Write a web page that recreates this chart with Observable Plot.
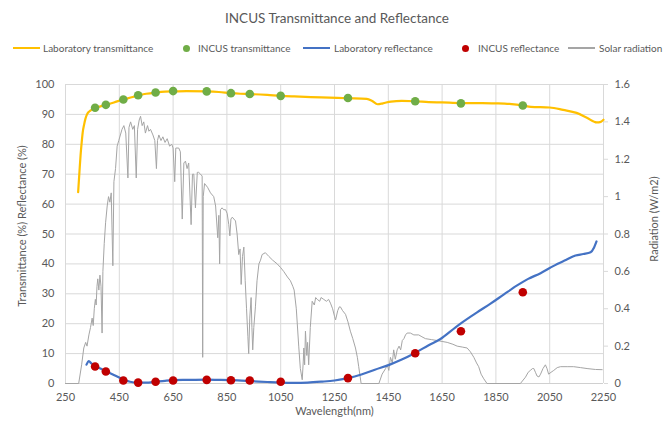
<!DOCTYPE html>
<html><head><meta charset="utf-8">
<script src="https://cdn.jsdelivr.net/npm/d3@7"></script>
<script src="https://cdn.jsdelivr.net/npm/@observablehq/plot@0.6"></script>
<style>
body{margin:0;background:#fff;font-family:Lato,"Open Sans",sans-serif;}
#wrap{position:relative;width:663px;height:428px;overflow:hidden;background:#fff;}
#title{position:absolute;top:8px;left:0;width:674px;text-align:center;font-size:13.5px;color:#595959;line-height:20px;}
.leg{position:absolute;top:41px;height:14px;font-size:10px;line-height:14px;color:#595959;white-space:nowrap;}
.sw-line{position:absolute;top:6px;height:2px;width:27px;}
.sw-dot{position:absolute;top:3.5px;width:7px;height:7px;border-radius:50%;}
#chart{position:absolute;left:0;top:62px;}
</style>
</head><body>
<div id="wrap">
  <div id="title">INCUS Transmittance and Reflectance</div>
  <div id="legend"></div>
  <div id="chart"></div>
</div>
<script>
// ---- data ----
const xTicks = [250, 450, 650, 850, 1050, 1250, 1450, 1650, 1850, 2050, 2250];
const yTicks = [0, 10, 20, 30, 40, 50, 60, 70, 80, 90, 100];
const radTicks = [0, 0.2, 0.4, 0.6, 0.8, 1, 1.2, 1.4, 1.6];
const seriesNames = ["Laboratory transmittance", "INCUS transmittance", "Laboratory reflectance", "INCUS reflectance", "Solar radiation"];

const labTransWl  = [297, 302, 306, 310, 314, 319, 324, 330, 336, 343, 350, 360, 380, 400, 430, 465, 500, 520, 550, 585, 620, 650, 700, 775, 820, 865, 900, 935, 1000, 1050, 1100, 1200, 1300, 1370, 1390, 1410, 1430, 1460, 1500, 1550, 1600, 1650, 1720, 1800, 1850, 1900, 1950, 1980, 2050, 2100, 2150, 2190, 2225, 2240, 2250];
const labTransVal = [64.0, 71.0, 76.3, 80.5, 84.0, 86.5, 88.5, 90.0, 90.8, 91.3, 91.7, 92.2, 92.7, 93.2, 94.0, 95.0, 95.8, 96.4, 96.9, 97.3, 97.6, 97.7, 97.8, 97.7, 97.5, 97.1, 96.9, 96.8, 96.5, 96.2, 96.0, 95.7, 95.4, 95.2, 94.5, 93.4, 93.7, 94.3, 94.5, 94.4, 94.1, 94.0, 93.8, 93.8, 93.7, 93.5, 93.0, 92.5, 92.3, 91.5, 90.5, 88.8, 87.3, 87.5, 88.2];

const labReflWl  = [328, 337, 345, 359, 380, 401, 420, 436, 466, 490, 520, 550, 585, 620, 650, 700, 777, 820, 867, 938, 1000, 1047, 1100, 1150, 1200, 1250, 1300, 1350, 1400, 1458, 1500, 1551, 1600, 1644, 1700, 1721, 1780, 1830, 1880, 1929, 1970, 2016, 2050, 2078, 2110, 2146, 2175, 2202, 2215, 2224];
const labReflVal = [6.3, 7.5, 6.8, 5.9, 5.0, 4.1, 3.3, 2.6, 1.3, 0.6, 0.3, 0.3, 0.6, 0.9, 1.1, 1.2, 1.3, 1.2, 1.1, 0.8, 0.5, 0.3, 0.2, 0.3, 0.6, 1.0, 1.8, 3.0, 4.6, 6.4, 8.0, 10.3, 12.8, 14.9, 18.8, 20.2, 23.8, 26.7, 29.8, 32.8, 35.0, 36.9, 38.6, 40.0, 41.3, 42.8, 43.3, 43.9, 45.5, 47.5];

const incusWl    = [360, 400, 465, 520, 585, 650, 775, 865, 935, 1050, 1300, 1550, 1720, 1950];
const incusTrans = [92.2, 93.2, 95.0, 96.4, 97.3, 97.8, 97.7, 97.1, 96.8, 96.2, 95.5, 94.4, 93.7, 93.0];
const incusRefl  = [5.7, 4.0, 1.0, 0.3, 0.6, 1.0, 1.2, 1.1, 1.0, 0.6, 1.8, 10.1, 17.5, 30.5];

// solar radiation (W/m2), right axis
const solarWl  = [250, 299, 310, 318, 325, 330, 337, 343, 349, 353, 357, 361, 364, 367, 370, 374, 378, 382, 386, 389, 394, 399, 405, 410, 415, 420, 426, 430, 436, 442, 448, 454, 460, 467, 474, 482, 486, 492, 500, 506, 513, 518, 524, 529, 535, 541, 547, 555, 560, 566, 575, 582, 588, 592, 597, 605, 612, 620, 628, 637, 645, 650, 656, 660, 671, 677, 684, 690, 696, 702, 708, 717, 722, 727, 733, 740, 745, 752, 758, 760, 762, 767, 778, 789, 801, 808, 816, 820, 823, 826, 832, 838, 845, 851, 857, 861, 865, 870, 876, 882, 888, 894, 899, 903, 908, 913, 918, 923, 928, 931, 935, 940, 943, 946, 950, 956, 962, 969, 975, 981, 993, 1006, 1020, 1037, 1050, 1061, 1075, 1086, 1095, 1100, 1108, 1117, 1123, 1130, 1134, 1136, 1139, 1142, 1147, 1150, 1154, 1160, 1167, 1175, 1180, 1186, 1195, 1200, 1210, 1220, 1228, 1235, 1243, 1250, 1254, 1262, 1268, 1272, 1280, 1291, 1300, 1309, 1318, 1328, 1335, 1340, 1346, 1349, 1415, 1427, 1440, 1446, 1452, 1458, 1465, 1470, 1476, 1483, 1490, 1496, 1502, 1508, 1514, 1520, 1532, 1545, 1563, 1575, 1588, 1610, 1632, 1650, 1669, 1690, 1706, 1725, 1743, 1755, 1768, 1778, 1786, 1795, 1805, 1817, 1941, 1960, 1970, 1978, 1986, 1991, 1997, 2003, 2010, 2016, 2025, 2034, 2040, 2046, 2055, 2065, 2078, 2090, 2115, 2139, 2165, 2189, 2220, 2245];
const solarRad = [0, 0, 0.10, 0.19, 0.22, 0.20, 0.26, 0.30, 0.35, 0.31, 0.40, 0.45, 0.42, 0.52, 0.56, 0.50, 0.58, 0.52, 0.27, 0.60, 0.75, 0.86, 0.95, 1.00, 0.97, 1.02, 0.63, 1.08, 1.15, 1.27, 1.30, 1.33, 1.36, 1.38, 1.34, 1.10, 1.37, 1.40, 1.36, 1.38, 1.10, 1.36, 1.41, 1.43, 1.38, 1.40, 1.34, 1.38, 1.35, 1.36, 1.33, 1.30, 1.15, 1.30, 1.33, 1.30, 1.32, 1.29, 1.31, 1.27, 1.28, 1.26, 1.08, 1.26, 1.26, 1.24, 0.88, 1.18, 1.19, 1.15, 1.18, 0.85, 1.12, 1.12, 0.94, 1.13, 1.13, 1.12, 1.11, 0.14, 1.00, 1.07, 1.05, 1.02, 1.00, 0.95, 0.78, 0.90, 0.64, 0.93, 0.94, 0.93, 0.93, 0.91, 0.85, 0.79, 0.88, 0.89, 0.88, 0.87, 0.80, 0.69, 0.72, 0.53, 0.68, 0.73, 0.55, 0.40, 0.25, 0.16, 0.35, 0.46, 0.30, 0.18, 0.30, 0.41, 0.55, 0.64, 0.66, 0.69, 0.70, 0.68, 0.66, 0.64, 0.62, 0.60, 0.57, 0.55, 0.52, 0.50, 0.40, 0.20, 0.08, 0.02, 0.12, 0.19, 0.10, 0.28, 0.15, 0.22, 0.10, 0.30, 0.44, 0.42, 0.46, 0.45, 0.44, 0.46, 0.45, 0.44, 0.45, 0.43, 0.40, 0.36, 0.34, 0.39, 0.41, 0.41, 0.39, 0.37, 0.33, 0.28, 0.24, 0.19, 0.14, 0.09, 0.03, 0, 0, 0.05, 0.08, 0.10, 0.07, 0.14, 0.11, 0.18, 0.13, 0.18, 0.20, 0.18, 0.23, 0.24, 0.26, 0.27, 0.27, 0.26, 0.26, 0.25, 0.24, 0.235, 0.23, 0.225, 0.22, 0.21, 0.20, 0.195, 0.19, 0.17, 0.14, 0.11, 0.09, 0.05, 0.025, 0, 0, 0.034, 0.06, 0.07, 0.08, 0.08, 0.06, 0.04, 0.035, 0.05, 0.08, 0.10, 0.08, 0.05, 0.06, 0.07, 0.085, 0.09, 0.09, 0.09, 0.085, 0.08, 0.075, 0.074];

// ---- styles ----
const colors = {labT: "#FFC000", incT: "#70AD47", labR: "#4472C4", incR: "#C00000", solar: "#A5A5A5"};
const k = 100 / 1.6; // radiation -> left-axis units

const labT = labTransWl.map((x, i) => ({x, y: labTransVal[i]}));
const labR = labReflWl.map((x, i) => ({x, y: labReflVal[i]}));
const incT = incusWl.map((x, i) => ({x, y: incusTrans[i]}));
const incR = incusWl.map((x, i) => ({x, y: incusRefl[i]}));
const solar = solarWl.map((x, i) => ({x, y: solarRad[i] * k}));

// legend
const legendLayout = [
  {type: "line", color: colors.labT, sx: 13, tx: 43},
  {type: "dot", color: colors.incT, sx: 183, tx: 198},
  {type: "line", color: colors.labR, sx: 303, tx: 334},
  {type: "dot", color: colors.incR, sx: 462, tx: 478},
  {type: "line", color: colors.solar, sx: 568, tx: 599}
];
const leg = document.getElementById("legend");
legendLayout.forEach((d, i) => {
  const sw = document.createElement("div");
  sw.className = "leg";
  sw.style.left = d.sx + "px";
  sw.innerHTML = d.type === "line"
    ? `<span class="sw-line" style="left:0;background:${d.color}"></span>`
    : `<span class="sw-dot" style="left:0;background:${d.color}"></span>`;
  leg.appendChild(sw);
  const t = document.createElement("div");
  t.className = "leg";
  t.style.left = d.tx + "px";
  t.textContent = seriesNames[i];
  leg.appendChild(t);
});

const grid = "#D9D9D9";
const chart = Plot.plot({
  width: 663,
  height: 366,
  marginTop: 22,
  marginBottom: 45,
  marginLeft: 65,
  marginRight: 60,
  style: {fontFamily: "Lato, 'Open Sans', sans-serif", fontSize: "11px", color: "#595959", background: "#fff"},
  x: {domain: [250, 2250]},
  y: {domain: [0, 100]},
  marks: [
    Plot.gridX(xTicks, {stroke: grid, strokeOpacity: 1}),
    Plot.gridY(yTicks, {stroke: grid, strokeOpacity: 1}),
    Plot.ruleY([0], {stroke: "#D0D0D0"}),
    Plot.line(solar, {x: "x", y: "y", stroke: colors.solar, strokeWidth: 1}),
    Plot.line(labT, {x: "x", y: "y", stroke: colors.labT, strokeWidth: 2.2, curve: "monotone-x"}),
    Plot.line(labR, {x: "x", y: "y", stroke: colors.labR, strokeWidth: 2.2, curve: "monotone-x"}),
    Plot.dot(incT, {x: "x", y: "y", fill: colors.incT, r: 4.3}),
    Plot.dot(incR, {x: "x", y: "y", fill: colors.incR, r: 4.3}),
    Plot.axisX(xTicks, {tickSize: 0, tickPadding: 10, label: null, fill: "#595959", tickFormat: d => String(d)}),
    Plot.axisY(yTicks, {anchor: "left", tickSize: 0, tickPadding: 11, label: null, fill: "#595959", tickFormat: d => String(d)}),
    Plot.axisY(radTicks.map(v => v * k), {anchor: "right", tickSize: 4, tickPadding: 7, label: null, stroke: grid, fill: "#595959",
      tickFormat: d => d3.format("~g")(+(d / k).toFixed(2))}),
    Plot.text(["Wavelength(nm)"], {frameAnchor: "bottom", dy: 31, fill: "#595959", fontSize: 11}),
    Plot.text(["Transmittance (%) Reflectance (%)"], {frameAnchor: "left", textAnchor: "middle", dx: -43, dy: -8, rotate: -90, fill: "#595959", fontSize: 11}),
    Plot.text(["Radiation (W/m2)"], {frameAnchor: "right", textAnchor: "middle", dx: 51, dy: -15, rotate: -90, fill: "#595959", fontSize: 11})
  ]
});
document.getElementById("chart").appendChild(chart);
</script>
</body></html>
